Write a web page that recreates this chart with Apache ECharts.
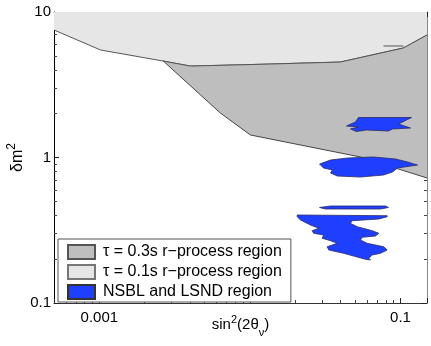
<!DOCTYPE html>
<html>
<head>
<meta charset="utf-8">
<script src="https://cdn.jsdelivr.net/npm/echarts@6/dist/echarts.min.js"></script>
<style>
  html, body { margin: 0; padding: 0; background: #fff; }
  #chart { width: 431px; height: 346px; }
</style>
</head>
<body>
<div id="chart"></div>
<script>
// axis ranges (sin^2(2theta), delta m^2)
const xRange = [0.0005, 0.15];
const yRange = [0.1, 10];
const xTickLabels = ['0.001', '0.1'];
const yTickLabels = ['0.1', '1', '10'];

// tau = 0.1s boundary (region above it)
const lightX = [0.0005, 0.00102, 0.00266, 0.00402, 0.0137, 0.0399, 0.1047, 0.15];
const lightY = [7.52, 5.48, 4.60, 4.25, 4.39, 4.53, 5.66, 6.95];

// tau = 0.3s lower boundary
const darkLowX = [0.00266, 0.00637, 0.01008, 0.0542, 0.15];
const darkLowY = [4.60, 2.02, 1.428, 1.008, 0.723];

// small stray segment near the top right
const segX = [0.0771, 0.1047];
const segY = [5.84, 5.84];

// NSBL and LSND islands
const blue1X = [0.0526, 0.1183, 0.0970, 0.1165, 0.0885, 0.0832, 0.0594, 0.0510, 0.0465, 0.0526, 0.0438, 0.0502];
const blue1Y = [1.883, 1.883, 1.699, 1.595, 1.570, 1.521, 1.545, 1.509, 1.570, 1.620, 1.646, 1.754];

const blue2X = [0.0290, 0.0343, 0.0445, 0.0662, 0.0926, 0.1113, 0.1297, 0.0955, 0.0885, 0.0771, 0.0542, 0.0381, 0.0343, 0.0353, 0.0308];
const blue2Y = [0.902, 0.961, 0.992, 1.008, 0.977, 0.931, 0.888, 0.847, 0.795, 0.758, 0.734, 0.746, 0.782, 0.821, 0.847];

const blue3X = [0.0206, 0.0816, 0.0816, 0.0718, 0.0478, 0.0465, 0.0516, 0.0649, 0.0718, 0.0682, 0.0557, 0.0542, 0.0601, 0.0774, 0.0816, 0.0736, 0.0649, 0.0616, 0.0632, 0.0585, 0.0420, 0.0334, 0.0326, 0.0380, 0.0343, 0.0302, 0.0309, 0.0265, 0.0259, 0.0287, 0.0252, 0.0217, 0.0206];
const blue3Y = [0.4025, 0.398, 0.3918, 0.3778, 0.3678, 0.3530, 0.3344, 0.3140, 0.3013, 0.2887, 0.2828, 0.2710, 0.2572, 0.2436, 0.2313, 0.2195, 0.2137, 0.2028, 0.1974, 0.1996, 0.2195, 0.2313, 0.2436, 0.2572, 0.2681, 0.2785, 0.2934, 0.3013, 0.3140, 0.3261, 0.3436, 0.3719, 0.3918];

const blue4X = [0.0290, 0.0343, 0.0795, 0.0832, 0.0736, 0.0317];
const blue4Y = [0.4533, 0.4642, 0.4642, 0.4533, 0.4426, 0.4426];

const DARK = 'τ = 0.3s r−process region';
const LIGHT = 'τ = 0.1s r−process region';
const BLUE = 'NSBL and LSND region';

const FONT = 'Liberation Sans, Arial, sans-serif';

function pts(api, xs, ys) {
  return xs.map((x, i) => api.coord([x, ys[i]]));
}

function near(v, s) {
  return Math.abs(Math.log10(v) - Math.log10(parseFloat(s))) < 1e-6;
}

// every axis gets its own tick objects
function logAxis(extra) {
  return Object.assign({
    type: 'log',
    logBase: 10,
    splitLine: { show: false },
    axisTick: { show: true, inside: true, length: 5, lineStyle: { color: '#222', width: 1 } },
    minorTick: { show: true, splitNumber: 9, length: 3, lineStyle: { color: '#444', width: 1 } },
    minorSplitLine: { show: false }
  }, extra);
}

const chart = echarts.init(document.getElementById('chart'), null, { renderer: 'canvas' });

chart.setOption({
  animation: false,
  textStyle: { fontFamily: FONT },
  grid: { left: 54, right: 4, top: 12, bottom: 43, containLabel: false, outerBoundsMode: 'none' },
  legend: {
    orient: 'vertical',
    left: 58,
    top: 239,
    data: [DARK, LIGHT, BLUE],
    icon: 'rect',
    itemWidth: 27,
    itemHeight: 14,
    itemGap: 4,
    padding: [5, 9, 2, 9],
    backgroundColor: '#fff',
    borderColor: '#555',
    borderWidth: 1,
    borderRadius: 0,
    textStyle: { fontSize: 16, color: '#000', fontFamily: FONT, padding: [0, 0, 0, 3] },
    z: 20
  },
  xAxis: [logAxis({
    min: xRange[0],
    max: xRange[1],
    axisLine: { lineStyle: { color: '#333', width: 1 } },
    axisLabel: {
      fontSize: 15, color: '#000', margin: 7,
      formatter: v => xTickLabels.find(s => near(v, s)) || ''
    },
    name: '{a|sin}{s|2}{a|(2θ}{b|ν}{a|)}',
    nameLocation: 'middle',
    nameGap: 9,
    nameMoveOverlap: false,
    nameTextStyle: {
      rich: {
        a: { fontSize: 15, color: '#000', fontFamily: FONT, lineHeight: 26, verticalAlign: 'middle' },
        s: { fontSize: 11, color: '#000', fontFamily: FONT, lineHeight: 26, verticalAlign: 'top', padding: [2, 0, 0, 0] },
        b: { fontSize: 11, color: '#000', fontFamily: FONT, lineHeight: 26, verticalAlign: 'bottom' }
      }
    }
  }), logAxis({
    min: xRange[0],
    max: xRange[1],
    position: 'top',
    axisLine: { show: true, lineStyle: { color: '#888', width: 1 } },
    axisLabel: { show: false }
  })],
  yAxis: [logAxis({
    min: yRange[0],
    max: yRange[1],
    axisLine: { show: true, lineStyle: { color: '#000', width: 1 } },
    axisLabel: {
      fontSize: 15, color: '#000', margin: 3,
      formatter: v => yTickLabels.find(s => near(v, s)) || ''
    },
    name: '{a|δm}{s|2}',
    nameLocation: 'middle',
    nameRotate: 90,
    nameGap: 28,
    nameMoveOverlap: false,
    nameTextStyle: {
      rich: {
        a: { fontSize: 16, color: '#000', fontFamily: FONT, lineHeight: 20, verticalAlign: 'bottom' },
        s: { fontSize: 12, color: '#000', fontFamily: FONT, lineHeight: 20, verticalAlign: 'top' }
      }
    }
  }), logAxis({
    min: yRange[0],
    max: yRange[1],
    position: 'right',
    axisLine: { show: true, lineStyle: { color: '#888', width: 1 } },
    axisLabel: { show: false }
  })],
  series: [
    {
      type: 'custom',
      name: LIGHT,
      coordinateSystem: 'cartesian2d',
      data: [[0.01, 1]],
      silent: true,
      z: 1,
      itemStyle: { color: '#e6e6e6', borderColor: '#777', borderWidth: 1 },
      renderItem: (params, api) => {
        const border = pts(api, lightX, lightY);
        const poly = border.concat(pts(api, [xRange[1], xRange[0]], [yRange[1], yRange[1]]));
        return {
          type: 'group',
          children: [
            { type: 'polygon', shape: { points: poly }, style: { fill: '#e6e6e6' } },
            { type: 'polyline', shape: { points: border }, style: { stroke: '#555', lineWidth: 1, fill: null } }
          ]
        };
      }
    },
    {
      type: 'custom',
      name: DARK,
      coordinateSystem: 'cartesian2d',
      data: [[0.01, 1]],
      silent: true,
      z: 2,
      itemStyle: { color: '#bebebe', borderColor: '#555', borderWidth: 1 },
      renderItem: (params, api) => {
        const upX = [], upY = [];
        lightX.forEach((x, i) => { if (x >= darkLowX[0]) { upX.push(x); upY.push(lightY[i]); } });
        const upper = pts(api, upX, upY);
        const lower = pts(api, darkLowX, darkLowY);
        const poly = upper.concat(lower.slice().reverse());
        return {
          type: 'group',
          children: [
            { type: 'polygon', shape: { points: poly }, style: { fill: '#bebebe' } },
            { type: 'polyline', shape: { points: upper }, style: { stroke: '#555', lineWidth: 1, fill: null } },
            { type: 'polyline', shape: { points: lower }, style: { stroke: '#444', lineWidth: 1, fill: null } }
          ]
        };
      }
    },
    {
      type: 'line',
      name: 'seg',
      data: segX.map((x, i) => [x, segY[i]]),
      symbol: 'none',
      silent: true,
      z: 3,
      lineStyle: { color: '#555', width: 1 }
    },
    {
      type: 'custom',
      name: BLUE,
      coordinateSystem: 'cartesian2d',
      data: [[0.01, 1]],
      silent: true,
      z: 4,
      itemStyle: { color: '#1f3fff', borderColor: '#333', borderWidth: 1 },
      renderItem: (params, api) => {
        const shapes = [[blue1X, blue1Y], [blue2X, blue2Y], [blue3X, blue3Y], [blue4X, blue4Y]];
        return {
          type: 'group',
          children: shapes.map(s => ({
            type: 'polygon',
            shape: { points: pts(api, s[0], s[1]) },
            style: { fill: '#1f3fff', stroke: '#2a2a66', lineWidth: 0.8 }
          }))
        };
      }
    }
  ]
});
</script>
</body>
</html>
